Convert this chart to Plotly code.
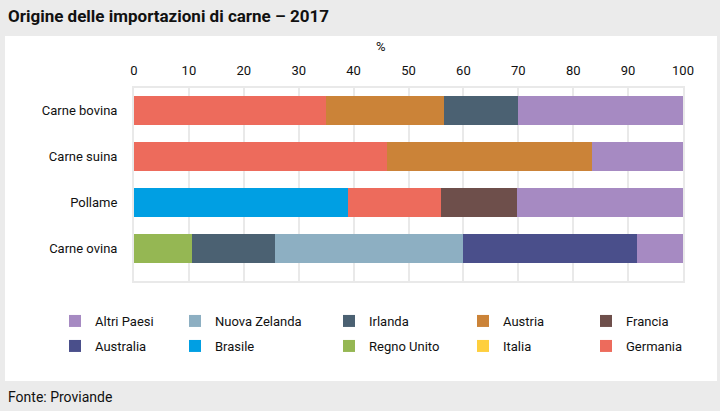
import plotly.graph_objects as go

categories = ["Carne bovina", "Carne suina", "Pollame", "Carne ovina"]

# share (%) per country, in stacking order (left to right)
brasile = [0, 0, 39.0, 0]
regno_unito = [0, 0, 0, 10.6]
germania = [35.0, 46.0, 17.0, 0]
austria = [21.5, 37.5, 0, 0]
francia = [0, 0, 13.7, 0]
irlanda = [13.5, 0, 0, 15.0]
nuova_zelanda = [0, 0, 0, 34.4]
australia = [0, 0, 0, 31.6]
italia = [0, 0, 0, 0]
altri_paesi = [30.0, 16.5, 30.3, 8.4]

x_ticks = [0, 10, 20, 30, 40, 50, 60, 70, 80, 90, 100]

FONT = "Roboto, Arial, sans-serif"
TXT = "#111111"
GRID = "#e9e9e9"

# (name, values, colour, legend id)
series = [
    ("Brasile", brasile, "#009fe3", "legend7"),
    ("Regno Unito", regno_unito, "#95b753", "legend8"),
    ("Germania", germania, "#ed6b5c", "legend10"),
    ("Austria", austria, "#cb8338", "legend4"),
    ("Francia", francia, "#6e4f4b", "legend5"),
    ("Irlanda", irlanda, "#4b6172", "legend3"),
    ("Nuova Zelanda", nuova_zelanda, "#8dafc2", "legend2"),
    ("Australia", australia, "#4a4f8b", "legend6"),
    ("Italia", italia, "#fecf3e", "legend9"),
    ("Altri Paesi", altri_paesi, "#a68ac2", "legend"),
]

fig = go.Figure()
for name, vals, col, lg in series:
    fig.add_trace(go.Bar(
        y=categories, x=vals, name=name, orientation="h",
        marker=dict(color=col, line=dict(width=0)),
        width=0.64, legend=lg,
    ))

# plot area in pixels
L, R, T, B = 134, 683, 88, 281
W, H = 720, 411
pw, ph = R - L, B - T

def px_x(v):
    return (v - L) / pw

def px_y(v):
    return (B - v) / ph

# legend placement: one legend per entry, 5 columns x 2 rows
col_sq = [77, 197, 351, 485, 608]
row_y = [321, 346]
order = ["legend", "legend2", "legend3", "legend4", "legend5",
         "legend6", "legend7", "legend8", "legend9", "legend10"]
legends = {}
for i, lid in enumerate(order):
    r, c = divmod(i, 5)
    legends[lid] = dict(
        x=px_x(col_sq[c] - 22), y=px_y(row_y[r]),
        xanchor="left", yanchor="middle", orientation="h",
        bgcolor="rgba(0,0,0,0)", borderwidth=0,
        font=dict(family=FONT, size=13, color=TXT),
        itemclick=False, itemdoubleclick=False,
    )

fig.update_layout(
    width=W, height=H,
    margin=dict(l=L, r=W - R, t=T, b=H - B, pad=0),
    paper_bgcolor="#ebebeb",
    plot_bgcolor="white",
    barmode="stack",
    bargap=0.36,
    showlegend=True,
    font=dict(family=FONT, size=13, color=TXT),
    xaxis=dict(
        side="top", range=[0, 100], tickvals=x_ticks,
        ticktext=[str(t) for t in x_ticks],
        showgrid=True, gridcolor=GRID, gridwidth=2,
        showline=True, linecolor=GRID, linewidth=2, mirror=True,
        zeroline=False, ticks="", ticklabelstandoff=6,
        tickfont=dict(family=FONT, size=13, color=TXT),
        fixedrange=True,
    ),
    yaxis=dict(
        range=[3.707, -0.483], showgrid=False,
        showline=True, linecolor=GRID, linewidth=2, mirror=True,
        zeroline=False, ticks="", ticklabelstandoff=12,
        tickfont=dict(family=FONT, size=13, color=TXT),
        fixedrange=True,
    ),
    shapes=[dict(
        type="rect", xref="paper", yref="paper", layer="below",
        x0=px_x(5), x1=px_x(717), y0=px_y(381), y1=px_y(36),
        fillcolor="white", line=dict(width=0),
    )],
    annotations=[
        dict(text="<b>Origine delle importazioni di carne – 2017</b>",
             xref="paper", yref="paper", x=px_x(6), y=px_y(16),
             xanchor="left", yanchor="middle", showarrow=False,
             font=dict(family=FONT, size=17, color=TXT)),
        dict(text="%", xref="paper", yref="paper", x=px_x(381), y=px_y(47),
             xanchor="center", yanchor="middle", showarrow=False,
             font=dict(family=FONT, size=13, color=TXT)),
        dict(text="Fonte: Proviande", xref="paper", yref="paper",
             x=px_x(6), y=px_y(397), xanchor="left", yanchor="middle",
             showarrow=False, font=dict(family=FONT, size=14, color=TXT)),
    ],
    **legends,
)

fig.write_html(
    "out.html",
    config={"displayModeBar": False, "staticPlot": False},
    post_script="document.body.style.margin='0';document.body.style.padding='0';",
)
